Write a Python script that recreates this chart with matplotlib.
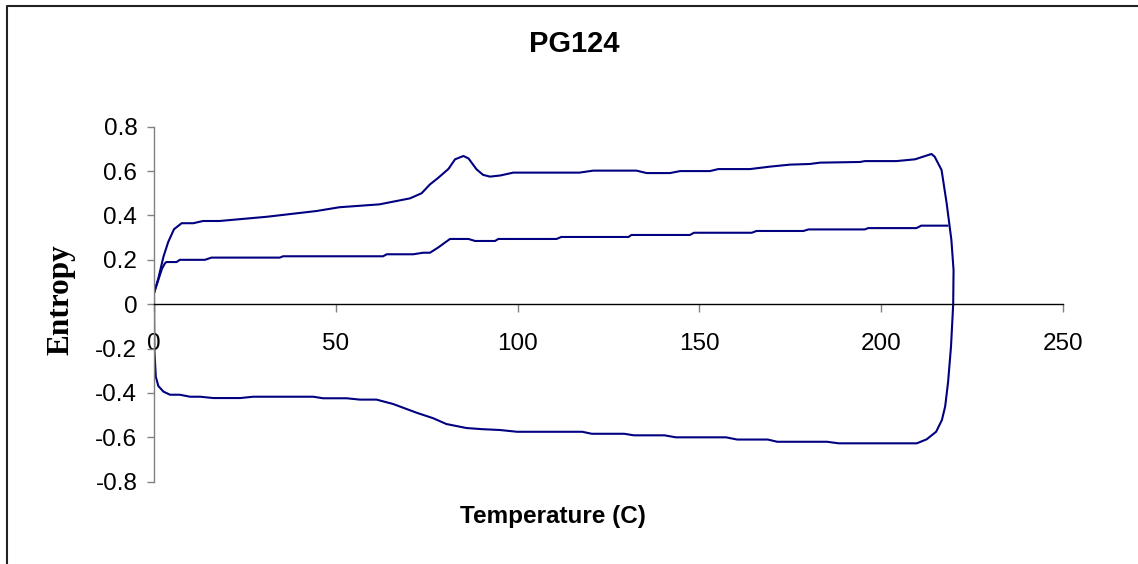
import matplotlib
matplotlib.use("Agg")
import matplotlib.pyplot as plt
from matplotlib.lines import Line2D

# Heating branch (upper path), temperature in C and entropy
heat_T = [0, 1.2, 2.6, 3.9, 5.5, 7.6, 10.8, 13.5, 18, 31, 44.7, 51, 62, 67.6,
          70.4, 73.6, 75.9, 78.2, 81, 82.8, 85.1, 86.5, 88.7, 90.5, 92.4, 95.2,
          98.8, 117, 120.8, 132.7, 135.5, 141.9, 144.7, 152.9, 155.2, 163.9,
          169.4, 174.9, 180.4, 183.2, 194.2, 195.5, 204.2, 209.3, 213.8, 214.7,
          216.6, 218.0, 219.3, 219.9]
heat_S = [0.05, 0.117, 0.214, 0.28, 0.338, 0.365, 0.365, 0.375, 0.375, 0.394,
          0.42, 0.437, 0.45, 0.468, 0.477, 0.50, 0.54, 0.57, 0.61, 0.653, 0.668,
          0.657, 0.608, 0.583, 0.575, 0.58, 0.593, 0.593, 0.602, 0.602, 0.591,
          0.591, 0.60, 0.60, 0.609, 0.609, 0.62, 0.629, 0.632, 0.638, 0.641,
          0.645, 0.645, 0.653, 0.677, 0.665, 0.605, 0.455, 0.29, 0.154]

# Cooling branch (right edge and lower path back to the start)
cool_T = [219.8, 219.2, 218.4, 217.6, 216.7, 215.1, 212.5, 209.8, 188.3, 185.1,
          171.4, 168.8, 160.4, 157.3, 143.5, 140.4, 132, 129.3, 120.4, 117.8,
          99.9, 95.1, 90, 85.9, 80.4, 76.8, 72.2, 65.8, 61.2, 56.6, 53, 46.5,
          43.8, 27.3, 23.7, 16.3, 12.7, 9.9, 7.1, 4.4, 2.6, 1.2, 0.5, 0.1, 0]
cool_S = [0.0, -0.19, -0.35, -0.46, -0.522, -0.575, -0.609, -0.627, -0.627,
          -0.62, -0.62, -0.61, -0.61, -0.60, -0.60, -0.591, -0.591, -0.584,
          -0.584, -0.575, -0.575, -0.567, -0.563, -0.558, -0.54, -0.514, -0.489,
          -0.45, -0.43, -0.43, -0.424, -0.424, -0.417, -0.417, -0.423, -0.423,
          -0.417, -0.417, -0.408, -0.408, -0.394, -0.369, -0.327, -0.206, 0.05]

# Inner curve
mid_T = [0, 1.2, 2.2, 3.0, 3.4, 6.2, 7.1, 14, 15.8, 34.6, 35.5, 63, 64, 71.3,
         74, 75.9, 78.2, 81.4, 86.5, 88.3, 93.8, 94.7, 110.7, 112, 130.5, 131.3,
         147.4, 148.5, 164.4, 165.7, 178.6, 180, 195.5, 196.4, 209.7, 211, 218.2]
mid_S = [0.05, 0.11, 0.16, 0.184, 0.19, 0.19, 0.2, 0.2, 0.21, 0.21, 0.216,
         0.216, 0.225, 0.225, 0.232, 0.232, 0.256, 0.294, 0.294, 0.285, 0.285,
         0.294, 0.294, 0.303, 0.303, 0.312, 0.312, 0.322, 0.322, 0.33, 0.33,
         0.337, 0.337, 0.343, 0.343, 0.354, 0.354]

x_ticks = [0, 50, 100, 150, 200, 250]
y_ticks = [-0.8, -0.6, -0.4, -0.2, 0, 0.2, 0.4, 0.6, 0.8]
y_tick_labels = ["-0.8", "-0.6", "-0.4", "-0.2", "0", "0.2", "0.4", "0.6", "0.8"]

plt.rcParams["font.family"] = ["Liberation Sans", "DejaVu Sans"]
plt.rcParams["axes.unicode_minus"] = False

W, H = 1138, 564
fig = plt.figure(figsize=(W / 100, H / 100), dpi=100)
fig.patch.set_facecolor("white")

left, right, top, bottom = 154, 1063, 126.7, 481.7
ax = fig.add_axes([left / W, 1 - bottom / H, (right - left) / W, (bottom - top) / H])
ax.set_facecolor("none")

navy = "#000080"
loop_T = heat_T + cool_T
loop_S = heat_S + cool_S
ax.plot(loop_T, loop_S, color=navy, lw=1.5, solid_joinstyle="round")
ax.plot(mid_T, mid_S, color=navy, lw=1.5, solid_joinstyle="round")

ax.set_xlim(0, 250)
ax.set_ylim(-0.8, 0.8)

for s in ("top", "right"):
    ax.spines[s].set_visible(False)
ax.spines["left"].set_color("#808080")
ax.spines["left"].set_linewidth(1.0)
ax.spines["bottom"].set_position(("data", 0))
ax.spines["bottom"].set_color("black")
ax.spines["bottom"].set_linewidth(1.0)

ax.set_xticks(x_ticks)
ax.set_xticklabels([str(t) for t in x_ticks])
ax.set_yticks(y_ticks)
ax.set_yticklabels(y_tick_labels)

ax.tick_params(axis="x", direction="out", length=5.8, width=1.0, color="#808080",
               pad=15, labelsize=17.5, labelcolor="black")
ax.tick_params(axis="y", direction="out", length=5, width=1.0, color="#808080",
               pad=7, labelsize=17.5, labelcolor="black")

fig.text(574.5 / W, 1 - 44 / H, "PG124", ha="center", va="center",
         fontsize=21, fontweight="bold")
fig.text(553 / W, 1 - 516 / H, "Temperature (C)", ha="center", va="center",
         fontsize=17.5, fontweight="bold")
fig.text(61.5 / W, 1 - 300 / H, "Entropy", ha="center", va="center",
         rotation=90, fontsize=22.5, fontweight="bold",
         family=["Liberation Serif", "DejaVu Serif"])

# Chart frame: left and top edges
fig.add_artist(Line2D([7 / W, 7 / W, 1.0], [0.0, 1 - 5.5 / H, 1 - 5.5 / H],
                      transform=fig.transFigure, color="#222222", lw=1.5))

fig.savefig("out.png", dpi=100)
